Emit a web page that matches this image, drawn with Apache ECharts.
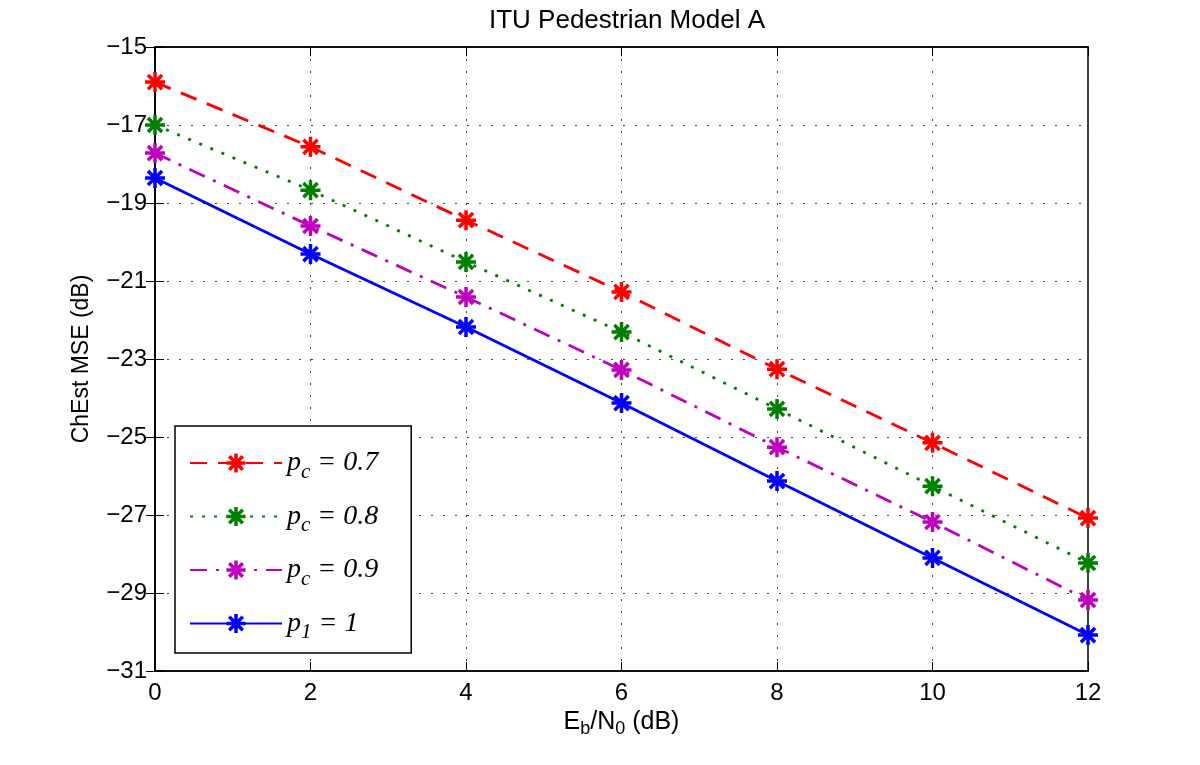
<!DOCTYPE html>
<html><head><meta charset="utf-8">
<script src="https://cdn.jsdelivr.net/npm/echarts@6/dist/echarts.min.js"></script>
<style>html,body{margin:0;padding:0;background:#fff}#c{width:1200px;height:765px}</style>
</head><body><div id="c"></div>
<script>
const xValues = [0, 2, 4, 6, 8, 10, 12];
const yTicks = [-31, -29, -27, -25, -23, -21, -19, -17, -15];
const pc07 = [-15.90, -17.56, -19.44, -21.28, -23.26, -25.15, -27.08];
const pc08 = [-17.00, -18.67, -20.51, -22.31, -24.28, -26.26, -28.23];
const pc09 = [-17.72, -19.59, -21.41, -23.28, -25.26, -27.18, -29.18];
const p1   = [-18.36, -20.31, -22.18, -24.13, -26.13, -28.10, -30.08];
const names = ['pc07', 'pc08', 'pc09', 'p1'];
const labels = {pc07: ['p','c',' = 0.7'], pc08: ['p','c',' = 0.8'], pc09: ['p','c',' = 0.9'], p1: ['p','1',' = 1']};

const star = 'path://M0,-10L0,10M-10,0L10,0M-7.07,-7.07L7.07,7.07M-7.07,7.07L7.07,-7.07';
function mk(name, data, color, type) {
  return {
    name: name, type: 'line', data: data.map((v, i) => [xValues[i], v]),
    symbol: star, symbolSize: 20, showSymbol: true,
    lineStyle: {color: color, width: 2.8, type: type},
    itemStyle: {color: color, borderColor: color, borderWidth: 3.5},
    z: 3
  };
}
const chart = echarts.init(document.getElementById('c'));
const axisLine = {show: true, lineStyle: {color: '#000', width: 1.5}};
const fontFam = 'Liberation Sans, Arial, sans-serif';
const serif = 'Liberation Serif, Times New Roman, serif';
chart.setOption({
  animation: false,
  title: {text: 'ITU Pedestrian Model A', left: 622, top: 3, textAlign: 'center',
    textStyle: {fontFamily: fontFam, fontSize: 26, fontWeight: 'normal', color: '#000'}},
  grid: {left: 155, right: 112, top: 47, bottom: 94, show: true, borderColor: '#000', borderWidth: 1.5},
  xAxis: [{
    type: 'value', min: 0, max: 12, interval: 2,
    name: '{n|E}{s|b}{n|/N}{s|0}{n| (dB)}', nameLocation: 'middle', nameGap: 34,
    nameTextStyle: {rich: {n: {fontFamily: fontFam, fontSize: 25, color: '#000'}, s: {fontFamily: fontFam, fontSize: 18, color: '#000', padding: [14,0,0,0]}}},
    axisLine: axisLine, axisTick: {inside: true, length: 9, lineStyle: {color: '#000'}},
    axisLabel: {fontFamily: fontFam, fontSize: 24, color: '#000', margin: 10},
    splitLine: {show: true, lineStyle: {color: '#444', type: [2, 10], width: 1}}
  }, {
    type: 'value', position: 'top', min: 0, max: 12, interval: 2,
    axisLine: axisLine, axisTick: {inside: true, length: 9, lineStyle: {color: '#000'}},
    axisLabel: {show: false}, splitLine: {show: false}
  }],
  yAxis: [{
    type: 'value', min: -31, max: -15, interval: 2,
    name: 'ChEst MSE (dB)', nameLocation: 'middle', nameGap: 62,
    nameTextStyle: {fontFamily: fontFam, fontSize: 23, color: '#000'},
    axisLine: axisLine, axisTick: {inside: true, length: 9, lineStyle: {color: '#000'}},
    axisLabel: {fontFamily: fontFam, fontSize: 24, color: '#000', margin: 8,
      formatter: v => String(v).replace('-', '\u2212')},
    splitLine: {show: true, lineStyle: {color: '#444', type: [2, 10], width: 1}}
  }, {
    type: 'value', position: 'right', min: -31, max: -15, interval: 2,
    axisLine: axisLine, axisTick: {inside: true, length: 9, lineStyle: {color: '#000'}},
    axisLabel: {show: false}, splitLine: {show: false}
  }],
  legend: {
    orient: 'vertical', left: 175, top: 426,
    backgroundColor: '#fff', borderColor: '#000', borderWidth: 1.5,
    padding: [23, 33, 10, 14], itemGap: 20, itemWidth: 92, itemHeight: 24,
    itemStyle: {borderWidth: 3.5},
    data: names,
    formatter: n => `{i|${labels[n][0]}}{s|${labels[n][1]}}{i|${labels[n][2]}}`,
    textStyle: {rich: {
      i: {fontFamily: serif, fontStyle: 'italic', fontSize: 28, color: '#000'},
      s: {fontFamily: serif, fontStyle: 'italic', fontSize: 21, color: '#000', padding: [18,0,0,0]}
    }}
  },
  series: [
    mk('pc07', pc07, '#ff0000', [17, 11]),
    mk('pc08', pc08, '#008000', [3, 9]),
    mk('pc09', pc09, '#bf00bf', [17, 9, 3, 9]),
    mk('p1', p1, '#0000ff', 'solid')
  ]
});
</script></body></html>
